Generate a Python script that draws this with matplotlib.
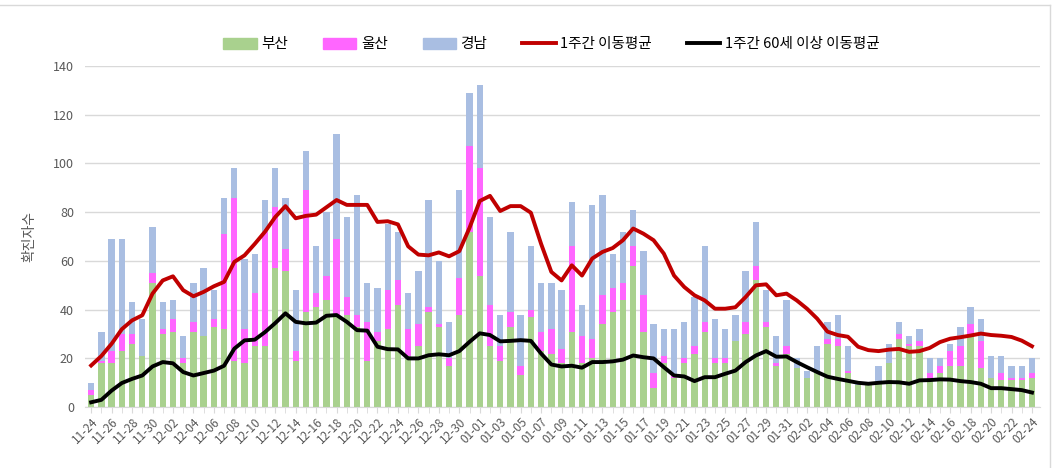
import numpy as np
import pandas as pd
import matplotlib
matplotlib.use("Agg")
import matplotlib.pyplot as plt
from matplotlib.patches import Patch
from matplotlib.lines import Line2D

plt.rcParams['font.family'] = ['Noto Sans CJK KR', 'DejaVu Sans']

# 날짜 (11-24 ~ 02-24)
dates = pd.date_range('2020-11-24', '2021-02-24').strftime('%m-%d').tolist()

busan = [5, 18, 18, 23, 26, 21, 51, 30, 31, 18, 31, 29, 33, 32, 19, 18, 25, 25, 57, 56,
         19, 39, 41, 44, 38, 38, 33, 19, 27, 32, 42, 21, 25, 39, 33, 17, 38, 72, 54, 25,
         19, 33, 13, 37, 23, 22, 18, 31, 18, 20, 34, 39, 44, 58, 31, 8, 18, 12, 18, 22,
         31, 18, 18, 27, 30, 52, 33, 17, 22, 16, 12, 14, 26, 25, 14, 9, 9, 10, 18, 28,
         25, 25, 12, 14, 17, 17, 29, 16, 12, 11, 11, 11, 12]
ulsan = [2, 1, 5, 7, 4, 0, 4, 2, 5, 2, 4, 0, 3, 39, 67, 14, 22, 47, 25, 9,
         4, 50, 6, 10, 31, 7, 5, 16, 4, 16, 10, 11, 9, 2, 1, 3, 15, 35, 44, 17,
         6, 6, 4, 3, 8, 10, 6, 35, 11, 8, 12, 10, 7, 8, 15, 6, 3, 1, 2, 3,
         4, 2, 2, 0, 5, 6, 2, 1, 3, 0, 0, 0, 2, 3, 1, 0, 0, 0, 0, 2,
         1, 2, 2, 3, 6, 8, 5, 11, 0, 3, 1, 1, 2]
gyeongnam = [3, 12, 46, 39, 13, 15, 19, 11, 8, 9, 16, 28, 12, 15, 12, 29, 16, 13, 16, 21,
             25, 16, 19, 26, 43, 33, 49, 16, 18, 27, 20, 15, 22, 44, 26, 15, 36, 22, 34, 36,
             13, 33, 21, 26, 20, 19, 24, 18, 13, 55, 41, 14, 21, 15, 18, 20, 11, 19, 15, 20,
             31, 16, 12, 11, 21, 18, 13, 11, 19, 4, 3, 11, 7, 10, 10, 1, 1, 7, 8, 5,
             3, 5, 6, 3, 3, 8, 7, 9, 9, 7, 5, 5, 6]
avg_all = [17.1, 21, 26, 32, 35.6, 37.7, 46.6, 52, 53.7, 48, 45.5, 47.3, 49.6, 51.4, 59.6,
           62.3, 67, 72, 78, 82.5, 77.5, 78.5, 79, 82, 85, 83, 83, 83, 76, 76.3, 75, 66,
           62.6, 62.3, 63.5, 61.9, 64, 73.6, 84.6, 86.7, 80.5, 82.5, 82.5, 79.8, 67, 55.5,
           52, 58.2, 54, 61, 63.7, 65.3, 68.5, 73.3, 71.2, 68.5, 63, 54, 49.3, 45.9, 43.8,
           40.4, 40.4, 41, 45.2, 50, 50.4, 45.9, 46.6, 43.8, 40.4, 36.3, 31, 29.6, 28.9,
           24.8, 23.4, 23, 23.6, 23.9, 22.7, 23, 24.3, 26.7, 28.1, 28.7, 29.4, 30.2, 29.6,
           29.3, 28.8, 27.3, 25]
avg_60 = [2, 3, 6.8, 9.9, 11.6, 13, 16.7, 18.5, 18, 14.4, 13, 14, 15, 17, 24, 27.4, 27.7,
          30.8, 34.5, 38.5, 35, 34.4, 34.7, 37.5, 37.8, 35, 31.6, 31.4, 24.8, 23.8, 23.7,
          20, 20, 21.3, 21.7, 21.3, 23, 26.8, 30.3, 29.6, 27, 27.2, 27.5, 27.2, 22, 17.5,
          16.7, 17, 16.2, 18.5, 18.5, 18.8, 19.5, 21.2, 20.5, 20, 16.4, 13, 12.6, 10.7,
          12.3, 12.3, 13.7, 15, 18.5, 21.2, 23, 20.7, 20.8, 18.5, 16.4, 14.4, 12.5, 11.6,
          10.8, 10, 9.6, 10, 10.3, 10.2, 9.6, 11, 11.1, 11.4, 11.3, 10.7, 10.3, 9.6, 7.8,
          7.8, 7.4, 7, 6]

c_busan = '#A9D18E'
c_ulsan = '#FF66FF'
c_gn = '#A9BEE2'
c_red = '#C00000'

x = np.arange(len(dates))
b = np.array(busan)
u = np.array(ulsan)
g = np.array(gyeongnam)

fig = plt.figure(figsize=(10.56, 4.68), dpi=100)
ax = fig.add_axes([0.0805, 0.130, 0.9045, 0.729])

ax.bar(x, b, width=0.62, color=c_busan, zorder=2)
ax.bar(x, u, width=0.62, bottom=b, color=c_ulsan, zorder=2)
ax.bar(x, g, width=0.62, bottom=b + u, color=c_gn, zorder=2)
ax.plot(x, avg_all, color=c_red, lw=2.8, zorder=3, solid_joinstyle='round')
ax.plot(x, avg_60, color='black', lw=2.8, zorder=3, solid_joinstyle='round')

ax.set_ylim(0, 140)
ax.set_xlim(-0.6, 92.8)
ax.set_yticks(range(0, 141, 20))
ax.yaxis.grid(True, color='#D9D9D9', lw=1, zorder=0)
ax.set_xticks(x[::2])
ax.set_xticklabels(dates[::2], rotation=45, ha='right', rotation_mode='anchor',
                   fontsize=8.5, color='#595959')
ax.set_xticks(x[1::2], minor=True)
ax.tick_params(axis='y', length=0, labelsize=9, colors='#595959', pad=8)
ax.tick_params(axis='x', which='both', length=4, color='#D9D9D9', pad=2)
for s in ['top', 'right', 'left']:
    ax.spines[s].set_visible(False)
ax.spines['bottom'].set_color('#D9D9D9')
ax.set_ylabel('확진자수', fontsize=10, color='#595959', labelpad=12)

handles = [Patch(color=c_busan), Patch(color=c_ulsan), Patch(color=c_gn),
           Line2D([], [], color=c_red, lw=2.8), Line2D([], [], color='black', lw=2.8)]
labels = ['부산', '울산', '경남', '1주간 이동평균', '1주간 60세 이상 이동평균']
fig.legend(handles, labels, loc='center', bbox_to_anchor=(0.522, 0.905), ncol=5,
           frameon=False, fontsize=10.5, handlelength=2.3, handleheight=0.8,
           handletextpad=0.3, columnspacing=2.4)

# 바깥 테두리
fig.add_artist(Line2D([0, 0.994], [0.99, 0.99], color='#D9D9D9', lw=1))
fig.add_artist(Line2D([0.994, 0.994], [0, 0.99], color='#D9D9D9', lw=1))

fig.savefig('out.png', dpi=100)
